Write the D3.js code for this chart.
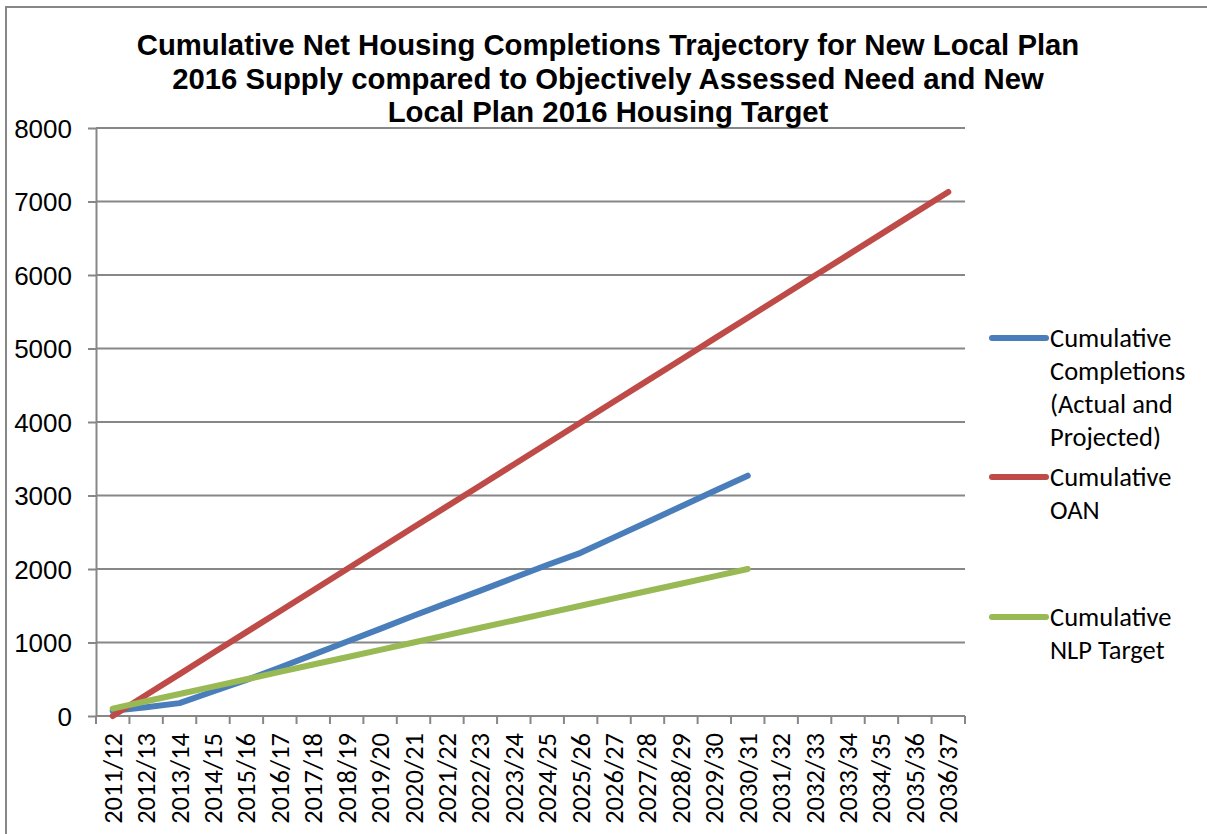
<!DOCTYPE html>
<html>
<head>
<meta charset="utf-8">
<script src="https://cdn.jsdelivr.net/npm/d3@7"></script>
<style>
  body { margin: 0; background: #fff; }
  svg { display: block; }
</style>
</head>
<body>
<div id="chart"></div>
<script>
// ---- data ----
var years = ["2011/12","2012/13","2013/14","2014/15","2015/16","2016/17","2017/18",
  "2018/19","2019/20","2020/21","2021/22","2022/23","2023/24","2024/25","2025/26",
  "2026/27","2027/28","2028/29","2029/30","2030/31","2031/32","2032/33","2033/34",
  "2034/35","2035/36","2036/37"];

// cumulative completions (actual and projected), to 2030/31
var completions = [70, 120, 175, 333, 490, 660, 835, 1010, 1185, 1365, 1535, 1705,
  1880, 2055, 2220, 2430, 2640, 2850, 3060, 3270];

// cumulative OAN, to 2036/37
var oan = [0, 285, 570, 856, 1141, 1426, 1711, 1996, 2282, 2567, 2852, 3137, 3422,
  3708, 3993, 4278, 4563, 4848, 5134, 5419, 5704, 5989, 6274, 6560, 6845, 7130];

// cumulative NLP target, to 2030/31
var nlpTarget = [100, 200, 300, 400, 500, 600, 700, 800, 900, 1000, 1100, 1200, 1300,
  1400, 1500, 1600, 1700, 1800, 1900, 2000];

var yTicks = [0, 1000, 2000, 3000, 4000, 5000, 6000, 7000, 8000];

var titleLines = ["Cumulative Net Housing Completions Trajectory for New Local Plan",
  "2016 Supply compared to Objectively Assessed Need and New",
  "Local Plan 2016 Housing Target"];

var series = [
  {name: ["Cumulative", "Completions", "(Actual and", "Projected)"], values: completions, color: "#4a7ebb"},
  {name: ["Cumulative", "OAN"], values: oan, color: "#be4b48"},
  {name: ["Cumulative", "NLP Target"], values: nlpTarget, color: "#98b954"}
];

// ---- layout ----
var W = 1207, H = 834;
var plot = {left: 96, right: 965, top: 128, bottom: 716};
var gridColor = "#878787";
var arial = "'Liberation Sans', Arial, sans-serif";
var calibri = "Carlito, Calibri, sans-serif";

var svg = d3.select("#chart").append("svg")
  .attr("width", W)
  .attr("height", H);

// outer chart border
svg.append("rect")
  .attr("x", 6).attr("y", 7)
  .attr("width", W + 10).attr("height", H + 10)
  .attr("fill", "none")
  .attr("stroke", gridColor)
  .attr("stroke-width", 2);

// scales
var x = d3.scaleBand()
  .domain(years)
  .range([plot.left, plot.right]);

var y = d3.scaleLinear()
  .domain([0, 8000])
  .range([plot.bottom, plot.top]);

var xc = function(i) { return x(years[i]) + x.bandwidth() / 2; };

// gridlines
svg.append("g")
  .selectAll("line")
  .data(yTicks.filter(function(d) { return d > 0; }))
  .enter()
  .append("line")
    .attr("x1", plot.left).attr("x2", plot.right)
    .attr("y1", function(d) { return y(d); })
    .attr("y2", function(d) { return y(d); })
    .attr("stroke", gridColor)
    .attr("stroke-width", 2);

// y axis
var yAxis = svg.append("g")
  .attr("transform", "translate(" + plot.left + ",0)")
  .call(d3.axisLeft(y)
    .tickValues(yTicks)
    .tickFormat(d3.format("d"))
    .tickSize(8)
    .tickPadding(16)
    .tickSizeOuter(0));

yAxis.select(".domain").attr("stroke", gridColor).attr("stroke-width", 2);
yAxis.selectAll(".tick line").attr("stroke", gridColor).attr("stroke-width", 2);
yAxis.selectAll(".tick text")
  .attr("fill", "#000")
  .style("font-family", arial)
  .style("font-size", "26px")
  .attr("dy", "0.36em");

// x axis : ticks on band boundaries
var xAxis = svg.append("g")
  .attr("transform", "translate(0," + plot.bottom + ")");

xAxis.append("line")
  .attr("x1", plot.left).attr("x2", plot.right)
  .attr("stroke", gridColor).attr("stroke-width", 2);

xAxis.selectAll(".xtick")
  .data(years.concat(["end"]))
  .enter()
  .append("line")
    .attr("class", "xtick")
    .attr("x1", function(d, i) { return plot.left + i * x.step(); })
    .attr("x2", function(d, i) { return plot.left + i * x.step(); })
    .attr("y1", 0).attr("y2", 8)
    .attr("stroke", gridColor).attr("stroke-width", 2);

xAxis.selectAll(".xlabel")
  .data(years)
  .enter()
  .append("text")
    .attr("class", "xlabel")
    .attr("transform", function(d) {
      return "translate(" + (x(d) + x.bandwidth() / 2 + 9) + ",17) rotate(-90)";
    })
    .attr("text-anchor", "end")
    .style("font-family", calibri)
    .style("font-size", "26.5px")
    .text(function(d) { return d; });

// lines
var line = d3.line()
  .x(function(d, i) { return xc(i); })
  .y(function(d) { return y(d); });

svg.append("g")
  .selectAll("path")
  .data(series)
  .enter()
  .append("path")
    .attr("d", function(d) { return line(d.values); })
    .attr("fill", "none")
    .attr("stroke", function(d) { return d.color; })
    .attr("stroke-width", 6)
    .attr("stroke-linecap", "round")
    .attr("stroke-linejoin", "round");

// title
svg.append("g")
  .selectAll("text")
  .data(titleLines)
  .enter()
  .append("text")
    .attr("x", 608)
    .attr("y", function(d, i) { return 55 + i * 33.5; })
    .attr("text-anchor", "middle")
    .style("font-family", arial)
    .style("font-weight", "bold")
    .style("font-size", "29.3px")
    .text(function(d) { return d; });

// legend
var legendY = [338, 477, 617];
var legend = svg.append("g")
  .selectAll("g")
  .data(series)
  .enter()
  .append("g")
    .attr("transform", function(d, i) { return "translate(992," + legendY[i] + ")"; });

legend.append("line")
  .attr("x1", 0).attr("x2", 54)
  .attr("stroke", function(d) { return d.color; })
  .attr("stroke-width", 6)
  .attr("stroke-linecap", "round");

legend.append("text")
  .style("font-family", calibri)
  .style("font-size", "26.5px")
  .selectAll("tspan")
  .data(function(d) { return d.name; })
  .enter()
  .append("tspan")
    .attr("x", 58)
    .attr("y", function(d, i) { return 9 + i * 33; })
    .text(function(d) { return d; });
</script>
</body>
</html>
